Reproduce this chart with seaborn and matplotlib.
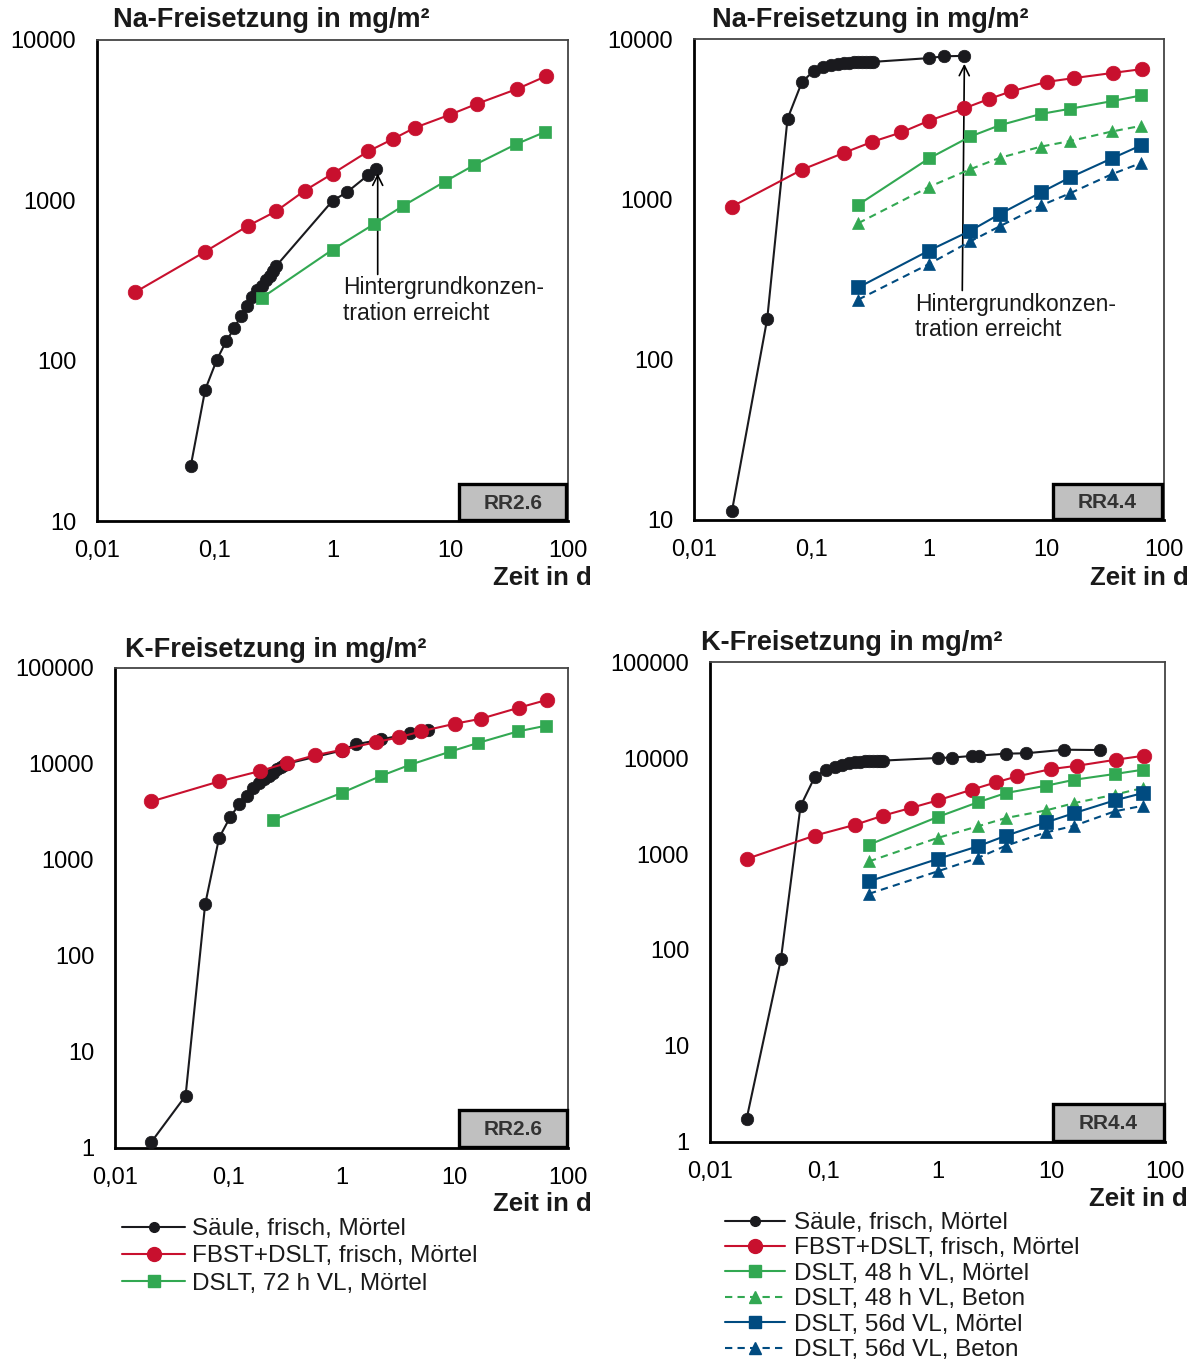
"""Na- und K-Freisetzung (RR2.6 / RR4.4) als 2x2 log-log Diagramme."""

import matplotlib

matplotlib.use("Agg")
import matplotlib.pyplot as plt
import seaborn as sns
from matplotlib.lines import Line2D
from matplotlib.patches import Rectangle

W, H = 1199, 1360

# Zeitpunkte in d
T_SAEULE = [0.021, 0.042, 0.0625, 0.083, 0.104, 0.125, 0.146, 0.167, 0.1875,
            0.208, 0.229, 0.25, 0.271, 0.292, 0.3125, 0.333]
T_FBST = [0.021, 0.083, 0.19, 0.33, 0.58, 1.0, 2.0, 3.25, 5.0, 10.0, 17.0, 37.0, 65.0]
T_DSLT = [0.25, 1.0, 2.25, 4.0, 9.0, 16.0, 36.0, 64.0]

# Na, RR2.6
NA_RR26_T_SAEULE = T_SAEULE[2:] + [1.0, 1.33, 2.0, 2.33]
NA_RR26_SAEULE = [22, 66, 101, 132, 159, 191, 218, 250, 275, 294, 319, 337, 365, 390,
                  993, 1125, 1435, 1573]
NA_RR26_FBST = [267, 479, 691, 853, 1149, 1466, 2017, 2410, 2836, 3427, 4009, 4952, 5948]
NA_RR26_DSLT72 = [246, 492, 710, 926, 1309, 1660, 2235, 2673]

# Na, RR4.4
NA_RR44_T_SAEULE = T_SAEULE + [1.0, 1.33, 2.0]
NA_RR44_SAEULE = [11.3, 180, 3180, 5400, 6300, 6700, 6900, 7000, 7050, 7100, 7150, 7150,
                  7200, 7200, 7200, 7200, 7600, 7800, 7850]
NA_RR44_FBST = [901, 1531, 1954, 2286, 2614, 3093, 3698, 4229, 4715, 5400, 5700, 6150, 6490]
NA_RR44_DSLT48_M = [925, 1800, 2466, 2897, 3410, 3675, 4097, 4444]
NA_RR44_DSLT48_B = [710, 1195, 1542, 1814, 2133, 2312, 2649, 2874]
NA_RR44_DSLT56_M = [282, 479, 637, 809, 1106, 1374, 1800, 2173]
NA_RR44_DSLT56_B = [237, 395, 547, 679, 916, 1094, 1435, 1687]

# K, RR2.6
K_RR26_T_SAEULE = T_SAEULE + [1.0, 1.33, 2.25, 4.0, 5.75]
K_RR26_SAEULE = [1.16, 3.5, 345, 1700, 2800, 3800, 4650, 5600, 6400, 6900, 7500, 8100,
                 8800, 9300, 9700, 10100, 13800, 16000, 18000, 20900, 22600]
K_RR26_FBST = [4074, 6580, 8440, 10240, 12320, 14020, 16870, 19010, 21840, 26260, 29600,
               38660, 46500]
K_RR26_DSLT72 = [2616, 4990, 7550, 9780, 13390, 16560, 21840, 25060]

# K, RR4.4
K_RR44_T_SAEULE = T_SAEULE + [1.0, 1.33, 2.0, 2.33, 4.0, 6.0, 13.0, 27.0]
K_RR44_SAEULE = [1.75, 80, 3150, 6280, 7550, 8100, 8500, 8800, 9000, 9100, 9200, 9250,
                 9300, 9350, 9400, 9400, 10000, 10100, 10500, 10600, 11100, 11200, 12200,
                 12100]
K_RR44_FBST = [889, 1553, 2020, 2505, 3013, 3614, 4677, 5570, 6430, 7670, 8310, 9600, 10560]
K_RR44_DSLT48_M = [1250, 2426, 3447, 4318, 5140, 5940, 6810, 7550]
K_RR44_DSLT48_B = [837, 1469, 1939, 2371, 2845, 3396, 4148, 4870]
K_RR44_DSLT56_M = [519, 887, 1200, 1552, 2135, 2673, 3614, 4318]
K_RR44_DSLT56_B = [385, 659, 908, 1221, 1679, 1972, 2780, 3184]

X_TICKS = [0.01, 0.1, 1, 10, 100]
X_LABELS = ["0,01", "0,1", "1", "10", "100"]

SAEULE = "Säule, frisch, Mörtel"
FBST = "FBST+DSLT, frisch, Mörtel"
DSLT72 = "DSLT, 72 h VL, Mörtel"
DSLT48_M = "DSLT, 48 h VL, Mörtel"
DSLT48_B = "DSLT, 48 h VL, Beton"
DSLT56_M = "DSLT, 56d VL, Mörtel"
DSLT56_B = "DSLT, 56d VL, Beton"

BLACK, RED, GREEN, BLUE = "#1a1a1e", "#c8102e", "#32a852", "#004b80"
DASH = (0, (3.5, 2.5))
STYLE = {
    SAEULE: dict(color=BLACK, marker="o", ms=9, ls="-", leg_ms=7),
    FBST: dict(color=RED, marker="o", ms=10.5, ls="-", leg_ms=10),
    DSLT72: dict(color=GREEN, marker="s", ms=9, ls="-", leg_ms=8.5),
    DSLT48_M: dict(color=GREEN, marker="s", ms=9, ls="-", leg_ms=8.5),
    DSLT48_B: dict(color=GREEN, marker="^", ms=9, ls=DASH, leg_ms=8.5),
    DSLT56_M: dict(color=BLUE, marker="s", ms=9.5, ls="-", leg_ms=9),
    DSLT56_B: dict(color=BLUE, marker="^", ms=9, ls=DASH, leg_ms=8.5),
}

FONT = ["Liberation Sans", "DejaVu Sans"]


def px(x, y):
    """Pixel im Zielbild -> Figure-Koordinaten."""
    return x / W, 1 - y / H


def make_axes(fig, left, top, right, bottom):
    x0, y0 = px(left, bottom)
    x1, y1 = px(right, top)
    return fig.add_axes([x0, y0, x1 - x0, y1 - y0])


def style_axes(ax, ymin, ymax, y_ticks):
    ax.set_xscale("log")
    ax.set_yscale("log")
    ax.set_xlim(0.01, 100)
    ax.set_ylim(ymin, ymax)
    ax.set_xticks(X_TICKS, X_LABELS)
    ax.set_yticks(y_ticks, [f"{v:g}" if v < 1e5 else "100000" for v in y_ticks])
    ax.minorticks_off()
    ax.tick_params(which="major", direction="out", length=6, width=1.5,
                   labelsize=17, colors="black")
    ax.tick_params(axis="x", pad=8)
    ax.tick_params(axis="y", pad=9)
    for side in ("left", "bottom"):
        ax.spines[side].set_linewidth(2.0)
        ax.spines[side].set_color("black")
    for side in ("top", "right"):
        ax.spines[side].set_linewidth(1.3)
        ax.spines[side].set_color("#444444")
    ax.set_xlabel("")
    ax.set_ylabel("")


def draw_series(ax, t, values, label, z):
    s = STYLE[label]
    sns.lineplot(x=t, y=values, ax=ax, color=s["color"], marker=s["marker"],
                 markersize=s["ms"], linestyle=s["ls"], linewidth=1.5,
                 markeredgecolor=s["color"], markeredgewidth=0.5,
                 sort=False, estimator=None, legend=False, zorder=z)


def rr_box(ax, text, x0, width, height):
    ax.add_patch(Rectangle((x0, 0.003), width, height, transform=ax.transAxes,
                           facecolor="#c0c0c0", edgecolor="black", linewidth=2.4,
                           zorder=5, clip_on=False))
    ax.text(x0 + width / 2, height / 2, text, transform=ax.transAxes, ha="center",
            va="center", fontsize=15, fontweight="bold", color="#333333", zorder=6)


def legend_handles(labels):
    handles = []
    for label in labels:
        s = STYLE[label]
        handles.append(Line2D([], [], color=s["color"], marker=s["marker"],
                              markersize=s["leg_ms"], linestyle=s["ls"], linewidth=1.5,
                              markeredgecolor=s["color"], label=label))
    return handles


sns.set_theme(style="white")
plt.rcParams["font.family"] = FONT
plt.rcParams["mathtext.default"] = "regular"

fig = plt.figure(figsize=(W / 100, H / 100), dpi=100)
fig.patch.set_facecolor("white")

# --- Na RR2.6
ax1 = make_axes(fig, 97, 40, 568, 521)
style_axes(ax1, 10, 10000, [10, 100, 1000, 10000])
draw_series(ax1, NA_RR26_T_SAEULE, NA_RR26_SAEULE, SAEULE, 3)
draw_series(ax1, T_FBST, NA_RR26_FBST, FBST, 4)
draw_series(ax1, T_DSLT, NA_RR26_DSLT72, DSLT72, 4.5)
ax1.annotate("", xy=(2.42, 1470), xytext=(2.42, 345),
             arrowprops=dict(arrowstyle="->", color="black", lw=1.2, mutation_scale=18,
                             shrinkA=0, shrinkB=0))
ax1.text(1.23, 335, "Hintergrundkonzen-\ntration erreicht", ha="left", va="top",
         fontsize=16.5, linespacing=1.15, color="#1a1a1a")
rr_box(ax1, "RR2.6", 0.769, 0.227, 0.074)

# --- Na RR4.4
ax2 = make_axes(fig, 694, 39, 1164, 520)
style_axes(ax2, 10, 10000, [10, 100, 1000, 10000])
draw_series(ax2, NA_RR44_T_SAEULE, NA_RR44_SAEULE, SAEULE, 3)
draw_series(ax2, T_FBST, NA_RR44_FBST, FBST, 4)
draw_series(ax2, T_DSLT, NA_RR44_DSLT48_M, DSLT48_M, 4.2)
draw_series(ax2, T_DSLT, NA_RR44_DSLT48_B, DSLT48_B, 4.4)
draw_series(ax2, T_DSLT, NA_RR44_DSLT56_M, DSLT56_M, 4.6)
draw_series(ax2, T_DSLT, NA_RR44_DSLT56_B, DSLT56_B, 4.8)
ax2.annotate("", xy=(2.0, 7000), xytext=(1.92, 270),
             arrowprops=dict(arrowstyle="->", color="black", lw=1.2, mutation_scale=18,
                             shrinkA=0, shrinkB=0))
ax2.text(0.76, 262, "Hintergrundkonzen-\ntration erreicht", ha="left", va="top",
         fontsize=16.5, linespacing=1.15, color="#1a1a1a")
rr_box(ax2, "RR4.4", 0.764, 0.232, 0.072)

# --- K RR2.6
ax3 = make_axes(fig, 115, 668, 568, 1148)
style_axes(ax3, 1, 100000, [1, 10, 100, 1000, 10000, 100000])
draw_series(ax3, K_RR26_T_SAEULE, K_RR26_SAEULE, SAEULE, 3)
draw_series(ax3, T_FBST, K_RR26_FBST, FBST, 4)
draw_series(ax3, T_DSLT, K_RR26_DSLT72, DSLT72, 4.5)
rr_box(ax3, "RR2.6", 0.759, 0.238, 0.076)

# --- K RR4.4
ax4 = make_axes(fig, 710, 662, 1165, 1142)
style_axes(ax4, 1, 100000, [1, 10, 100, 1000, 10000, 100000])
draw_series(ax4, K_RR44_T_SAEULE, K_RR44_SAEULE, SAEULE, 3)
draw_series(ax4, T_FBST, K_RR44_FBST, FBST, 4)
draw_series(ax4, T_DSLT, K_RR44_DSLT48_M, DSLT48_M, 4.2)
draw_series(ax4, T_DSLT, K_RR44_DSLT48_B, DSLT48_B, 4.4)
draw_series(ax4, T_DSLT, K_RR44_DSLT56_M, DSLT56_M, 4.6)
draw_series(ax4, T_DSLT, K_RR44_DSLT56_B, DSLT56_B, 4.8)
rr_box(ax4, "RR4.4", 0.754, 0.243, 0.076)

# Titel und Achsenbeschriftung
for (x, y), title in [((113, 20), "Na-Freisetzung in mg/m²"),
                      ((712, 20), "Na-Freisetzung in mg/m²"),
                      ((125, 650), "K-Freisetzung in mg/m²"),
                      ((701, 643), "K-Freisetzung in mg/m²")]:
    fig.text(*px(x, y), title, ha="left", va="center", fontsize=19.5, fontweight="bold",
             color="#1a1a1a")
# "Zeit in d" sitzt direkt unter der Beschriftung "100"
for x, y in [(592, 566), (1189, 566), (592, 1192), (1188, 1187)]:
    fig.text(*px(x, y), "Zeit in d", ha="right", va="top", fontsize=18.5,
             fontweight="bold", color="#1a1a1a")

# Legenden
leg_kw = dict(frameon=False, fontsize=17.5, borderpad=0, borderaxespad=0,
              bbox_transform=fig.transFigure, loc="upper left")
leg3 = ax3.legend(handles=legend_handles([SAEULE, FBST, DSLT72]),
                  bbox_to_anchor=px(122, 1218), handlelength=2.6, handletextpad=0.3,
                  labelspacing=0.22, **leg_kw)
leg4 = ax4.legend(handles=legend_handles([SAEULE, FBST, DSLT48_M, DSLT48_B, DSLT56_M,
                                          DSLT56_B]),
                  bbox_to_anchor=px(725, 1212), handlelength=2.45, handletextpad=0.4,
                  labelspacing=0.14, **leg_kw)
for leg in (leg3, leg4):
    for text in leg.get_texts():
        text.set_color("#1a1a1a")

fig.savefig("out.png", dpi=100, facecolor="white")
plt.close(fig)
